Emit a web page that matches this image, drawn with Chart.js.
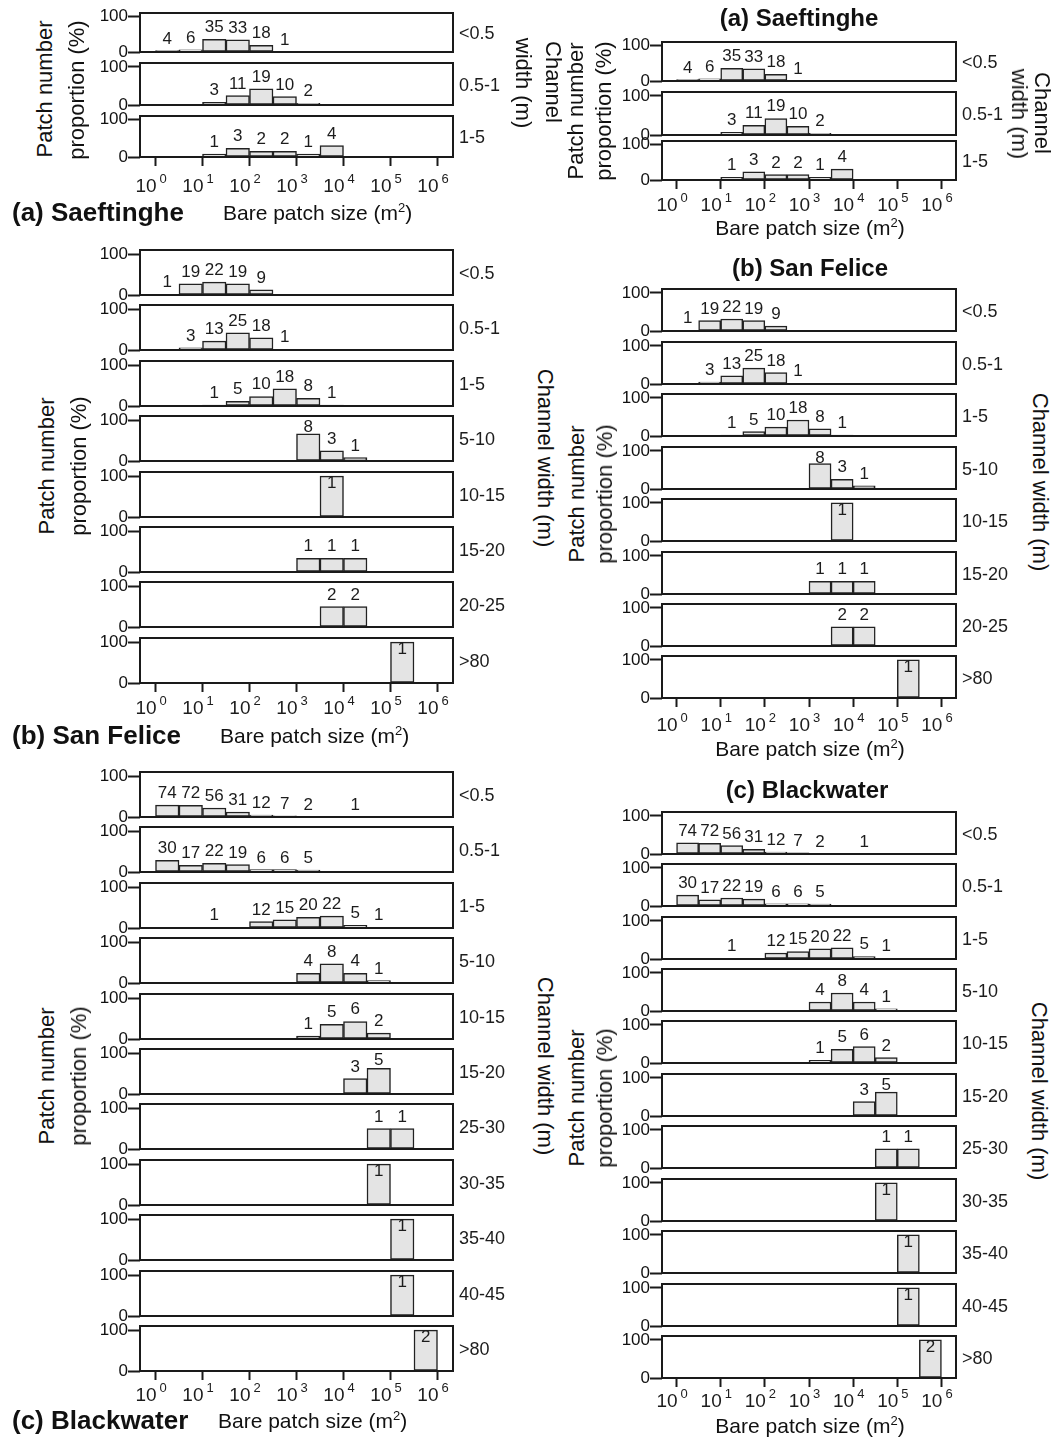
<!DOCTYPE html>
<html>
<head>
<meta charset="utf-8">
<script src="https://cdn.jsdelivr.net/npm/chart.js@4.4.1/dist/chart.umd.min.js"></script>
<style>
  body { margin: 0; background: #fff; }
  #page { position: relative; width: 1064px; height: 1438px; overflow: hidden;
          font-family: "Liberation Sans", Arial, sans-serif; color: #111; }
  #page canvas { position: absolute; }
  .t { position: absolute; white-space: nowrap; line-height: 1; }
  .t sup { font-size: 0.62em; line-height: 0; vertical-align: 0.55em; }
  .c { transform: translate(-50%, -50%); }
  .l { transform: translateY(-50%); }
  .rl { transform: translate(-50%, -50%) rotate(-90deg); }
  .rr { transform: translate(-50%, -50%) rotate(90deg); }
</style>
</head>
<body>
<div id="page"></div>
<script>
// log10 of the bare patch size at the centre of each half-decade bin (10^0 .. 10^6)
const binCentres = [0.25, 0.75, 1.25, 1.75, 2.25, 2.75, 3.25, 3.75, 4.25, 4.75, 5.25, 5.75];
const decadeExponents = [0, 1, 2, 3, 4, 5, 6];
const yTicks = [0, 100];

// patch counts per bin, one row per channel width class
const saeftingheClasses = ['<0.5', '0.5-1', '1-5'];
const saeftingheCounts = [
  [4, 6, 35, 33, 18, 1, null, null, null, null, null, null],
  [null, null, 3, 11, 19, 10, 2, null, null, null, null, null],
  [null, null, 1, 3, 2, 2, 1, 4, null, null, null, null]
];

const sanFeliceClasses = ['<0.5', '0.5-1', '1-5', '5-10', '10-15', '15-20', '20-25', '>80'];
const sanFeliceCounts = [
  [1, 19, 22, 19, 9, null, null, null, null, null, null, null],
  [null, 3, 13, 25, 18, 1, null, null, null, null, null, null],
  [null, null, 1, 5, 10, 18, 8, 1, null, null, null, null],
  [null, null, null, null, null, null, 8, 3, 1, null, null, null],
  [null, null, null, null, null, null, null, 1, null, null, null, null],
  [null, null, null, null, null, null, 1, 1, 1, null, null, null],
  [null, null, null, null, null, null, null, 2, 2, null, null, null],
  [null, null, null, null, null, null, null, null, null, null, 1, null]
];

const blackwaterClasses = ['<0.5', '0.5-1', '1-5', '5-10', '10-15', '15-20', '25-30', '30-35', '35-40', '40-45', '>80'];
const blackwaterCounts = [
  [74, 72, 56, 31, 12, 7, 2, null, 1, null, null, null],
  [30, 17, 22, 19, 6, 6, 5, null, null, null, null, null],
  [null, null, 1, null, 12, 15, 20, 22, 5, 1, null, null],
  [null, null, null, null, null, null, 4, 8, 4, 1, null, null],
  [null, null, null, null, null, null, 1, 5, 6, 2, null, null],
  [null, null, null, null, null, null, null, null, 3, 5, null, null],
  [null, null, null, null, null, null, null, null, null, 1, 1, null],
  [null, null, null, null, null, null, null, null, null, 1, null, null],
  [null, null, null, null, null, null, null, null, null, null, 1, null],
  [null, null, null, null, null, null, null, null, null, null, 1, null],
  [null, null, null, null, null, null, null, null, null, null, null, 2]
];

Chart.defaults.font.family = '"Liberation Sans", Arial, sans-serif';
Chart.defaults.color = '#111';

const FONT = '"Liberation Sans", Arial, sans-serif';
const page = document.getElementById('page');

// box, value labels, width class label and 10^n tick labels
const panelPlugin = {
  id: 'panel',
  afterDatasetsDraw(chart, args, opts) {
    const ctx = chart.ctx, a = chart.chartArea;
    const counts = chart.data.datasets[0].counts;
    const meta = chart.getDatasetMeta(0);
    ctx.save();
    ctx.strokeStyle = '#1a1a1a';
    ctx.lineWidth = 2;
    ctx.strokeRect(a.left, a.top, a.right - a.left, a.bottom - a.top);

    ctx.fillStyle = '#1c1c1c';
    ctx.font = '17px ' + FONT;
    ctx.textAlign = 'center';
    ctx.textBaseline = 'alphabetic';
    meta.data.forEach((bar, i) => {
      if (counts[i] == null) return;
      ctx.fillText(String(counts[i]), bar.x, Math.max(bar.y - 7, a.top + 16));
    });

    ctx.font = '18px ' + FONT;
    ctx.textAlign = 'left';
    ctx.textBaseline = 'middle';
    ctx.fillText(opts.label, a.right + 6, (a.top + a.bottom) / 2 + 2);

    if (opts.last) {
      const xs = chart.scales.x;
      decadeExponents.forEach(e => {
        const px = xs.getPixelForValue(e);
        ctx.font = '19px ' + FONT;
        ctx.textAlign = 'right';
        ctx.fillText('10', px + 1, a.bottom + opts.tickDy);
        ctx.font = '13px ' + FONT;
        ctx.textAlign = 'left';
        ctx.fillText(String(e), px + 4, a.bottom + opts.tickDy - 8);
      });
    }
    ctx.restore();
  }
};

function drawPanel(col, label, counts, top, bottom, isLast, tickDy) {
  const padL = 10, axisW = 60, padR = 70, padT = 12, padB = isLast ? 50 : 12;
  const boxW = col.right - col.left, boxH = bottom - top;
  const cv = document.createElement('canvas');
  cv.width = padL + axisW + boxW + padR;
  cv.height = padT + boxH + padB;
  cv.style.left = (col.left - padL - axisW) + 'px';
  cv.style.top = (top - padT) + 'px';
  page.appendChild(cv);

  const total = counts.reduce((s, v) => s + (v || 0), 0);
  new Chart(cv, {
    type: 'bar',
    data: {
      datasets: [{
        data: binCentres.map((x, i) => ({ x: x, y: counts[i] == null ? null : counts[i] / total * 100 })),
        counts: counts,
        backgroundColor: '#e4e4e4',
        borderColor: '#222',
        borderWidth: 1.5,
        borderSkipped: false,
        barPercentage: 1,
        categoryPercentage: 1
      }]
    },
    options: {
      responsive: false,
      animation: false,
      events: [],
      layout: { padding: { left: padL, right: padR, top: padT, bottom: padB } },
      plugins: {
        legend: { display: false },
        tooltip: { enabled: false },
        panel: { label: label, last: isLast, tickDy: tickDy }
      },
      scales: {
        x: {
          type: 'linear', min: -0.33, max: 6.33, offset: false, display: isLast,
          afterBuildTicks: s => { s.ticks = decadeExponents.map(v => ({ value: v })); },
          afterFit: s => { s.height = 0; },
          ticks: { display: false },
          grid: { drawOnChartArea: false, offset: false, tickLength: 9, tickWidth: 2, tickColor: '#1a1a1a' },
          border: { display: false }
        },
        y: {
          min: 0, max: 110,
          afterBuildTicks: s => { s.ticks = yTicks.map(v => ({ value: v })); },
          afterFit: s => { s.width = axisW; },
          ticks: { font: { size: 17 }, color: '#111', padding: 0 },
          grid: { drawOnChartArea: false, tickLength: 12, tickWidth: 2, tickColor: '#1a1a1a' },
          border: { display: false }
        }
      }
    },
    plugins: [panelPlugin]
  });
}

function spaced(first, pitch, n, h) {
  const tops = [], bottoms = [];
  for (let i = 0; i < n; i++) {
    const t = Math.round(first + pitch * i);
    tops.push(t);
    bottoms.push(t + h);
  }
  return { tops, bottoms };
}

const leftCol = { left: 140, right: 453 };
const rightCol = { left: 662, right: 956 };

const groups = [
  { col: leftCol, classes: saeftingheClasses, counts: saeftingheCounts, tops: [13, 63, 116], bottoms: [52, 105, 157], tickDy: 30 },
  Object.assign({ col: leftCol, classes: sanFeliceClasses, counts: sanFeliceCounts, tickDy: 26 }, spaced(250, 55.4, 8, 45)),
  Object.assign({ col: leftCol, classes: blackwaterClasses, counts: blackwaterCounts, tickDy: 25 }, spaced(771.7, 55.45, 11, 45)),
  { col: rightCol, classes: saeftingheClasses, counts: saeftingheCounts, tops: [42, 92, 141], bottoms: [81, 135, 180], tickDy: 26 },
  Object.assign({ col: rightCol, classes: sanFeliceClasses, counts: sanFeliceCounts, tickDy: 28 }, spaced(289.3, 52.45, 8, 42)),
  Object.assign({ col: rightCol, classes: blackwaterClasses, counts: blackwaterCounts, tickDy: 24 }, spaced(811.7, 52.43, 11, 42))
];

groups.forEach(g => {
  g.classes.forEach((cls, i) => {
    drawPanel(g.col, cls, g.counts[i], g.tops[i], g.bottoms[i], i === g.classes.length - 1, g.tickDy);
  });
});

function addText(html, x, y, cls, size, bold) {
  const d = document.createElement('div');
  d.className = 't ' + cls;
  d.innerHTML = html;
  d.style.left = x + 'px';
  d.style.top = y + 'px';
  d.style.fontSize = size + 'px';
  if (bold) d.style.fontWeight = 'bold';
  page.appendChild(d);
}

const xTitle = 'Bare patch size (m<sup>2</sup>)';

// left column
addText('(a) Saeftinghe', 12, 212, 'l', 26, true);
addText(xTitle, 223, 212, 'l', 21);
addText('(b) San Felice', 12, 735, 'l', 26, true);
addText(xTitle, 220, 735, 'l', 21);
addText('(c) Blackwater', 12, 1420, 'l', 26, true);
addText(xTitle, 218, 1420, 'l', 21);

addText('Patch number', 45, 89, 'rl', 22);
addText('proportion (%)', 77, 90, 'rl', 22);
addText('Patch number', 47, 466, 'rl', 22);
addText('proportion (%)', 79, 466, 'rl', 22);
addText('Patch number', 47, 1076, 'rl', 22);
addText('proportion (%)', 79, 1076, 'rl', 22);

addText('Channel', 553, 82, 'rr', 22);
addText('width (m)', 523, 83, 'rr', 22);
addText('Channel width (m)', 545, 458, 'rr', 22);
addText('Channel width (m)', 545, 1066, 'rr', 22);

// right column
addText('(a) Saeftinghe', 799, 18, 'c', 24, true);
addText('(b) San Felice', 810, 268, 'c', 24, true);
addText('(c) Blackwater', 807, 790, 'c', 24, true);
addText(xTitle, 810, 227, 'c', 21);
addText(xTitle, 810, 748, 'c', 21);
addText(xTitle, 810, 1425, 'c', 21);

addText('Patch number', 576, 111, 'rl', 22);
addText('proportion (%)', 604, 111, 'rl', 22);
addText('Patch number', 577, 494, 'rl', 22);
addText('proportion (%)', 605, 494, 'rl', 22);
addText('Patch number', 577, 1098, 'rl', 22);
addText('proportion (%)', 605, 1098, 'rl', 22);

addText('Channel', 1042, 113, 'rr', 22);
addText('width (m)', 1019, 114, 'rr', 22);
addText('Channel width (m)', 1040, 482, 'rr', 22);
addText('Channel width (m)', 1039, 1091, 'rr', 22);
</script>
</body>
</html>
